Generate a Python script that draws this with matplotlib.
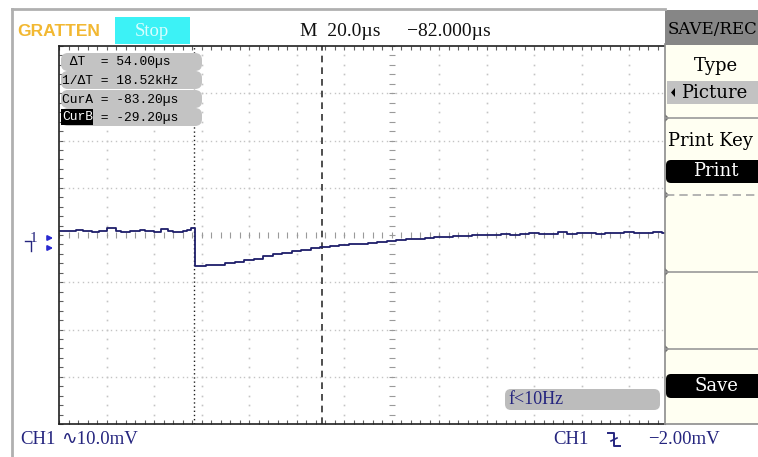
import matplotlib
matplotlib.use("Agg")
import matplotlib.pyplot as plt
from matplotlib.patches import Rectangle, FancyBboxPatch, Polygon
import numpy as np

# ---------------- data ----------------
time_div_us = 20.0      # µs / div
volt_div_mv = 10.0      # mV / div
cursor_a_us = -83.2
cursor_b_us = -29.2

trace_time_us = [-140, -136, -133, -130, -126, -123, -120, -116, -114, -110,
                 -106, -104, -100, -97, -94, -92, -88, -86, -84.5,
                 -82.8, -78, -74, -70, -66, -62, -58, -54, -50, -46, -42, -38,
                 -34, -30, -26, -22, -18, -14, -10, -6, -2, 2, 6, 10, 14, 18,
                 22, 26, 30, 34, 38, 42, 46, 50, 54, 58, 62, 66, 70, 74, 78,
                 82, 86, 90, 94, 98, 102, 106, 110, 114, 115.2]
trace_mv = [0.8, 0.8, 1.0, 0.8, 0.6, 0.8, 1.4, 0.8, 0.6, 0.8,
            1.0, 0.8, 0.6, 1.2, 0.8, 0.6, 0.8, 1.0, 1.4,
            -6.6, -6.4, -6.4, -6.0, -5.7, -5.3, -5.0, -4.5, -4.1, -3.8, -3.4, -3.2,
            -2.8, -2.6, -2.4, -2.2, -1.9, -1.9, -1.6, -1.5, -1.2, -1.1, -0.9, -0.8, -0.6, -0.5,
            -0.4, -0.2, -0.3, 0.0, -0.1, 0.0, 0.2, 0.1, 0.2, 0.4, 0.2, 0.3, 0.6, 0.3, 0.4,
            0.4, 0.2, 0.5, 0.4, 0.6, 0.4, 0.5, 0.7, 0.4, 0.4]

info_lines = [" \u0394T  = 54.00\u00b5s", "1/\u0394T = 18.52kHz",
              "CurA = -83.20\u00b5s", "CurB = -29.20\u00b5s"]
header_time = "M  20.0\u00b5s"
header_pos = "\u221282.000\u00b5s"
ch_scale = "\u223f10.0mV"
trig_level = "\u22122.00mV"
freq_text = "f<10Hz"

W, H = 758, 457
fig = plt.figure(figsize=(W / 100, H / 100), dpi=100)
fig.patch.set_facecolor("white")

# ---------------- main scope axes ----------------
L, T, R, B = 59, 46, 665, 424
ax = fig.add_axes([L / W, (H - B) / H, (R - L) / W, (B - T) / H])
ax.set_facecolor("white")
xmin = -7 * time_div_us
xmax = xmin + (R - L) / 47.5 * time_div_us
ax.set_xlim(xmin, xmax)
ax.set_ylim(-4 * volt_div_mv, 4 * volt_div_mv)
ax.set_xticks([]); ax.set_yticks([])

grid_c = "#c4c4c4"
minor_t = np.arange(xmin, xmax + 0.01, time_div_us / 5)
fine_t = np.arange(xmin, xmax + 0.01, time_div_us / 10)
minor_v = np.arange(-40, 40.01, volt_div_mv / 5)
for t in np.arange(-120, xmax, time_div_us):
    if abs(t) < 1e-6:
        continue
    ax.plot(np.full_like(minor_v, t), minor_v, ls="none", marker="s", ms=1.2,
            color=grid_c, mew=0)
for v in np.arange(-30, 31, volt_div_mv):
    if abs(v) < 1e-6:
        continue
    ax.plot(fine_t, np.full_like(fine_t, v), ls="none", marker="s", ms=1.0,
            color=grid_c, mew=0)
# centre axes with small ticks
ax.plot(minor_t, np.zeros_like(minor_t), ls="none", marker="|", ms=4,
        color="#9a9a9a", mew=0.8)
ax.plot(np.zeros_like(minor_v), minor_v, ls="none", marker="_", ms=4,
        color="#9a9a9a", mew=0.8)

# cursors
ax.axvline(cursor_a_us, color="#202020", lw=1.0, ls=(0, (1, 2)))
ax.axvline(cursor_b_us, color="#303030", lw=1.2, ls=(0, (4, 3)))

# trace
ax.plot(trace_time_us, trace_mv, drawstyle="steps-post", color="#1e1e6a", lw=1.3)

# spines and edge ticks
for s in ["top", "bottom", "left"]:
    ax.spines[s].set_color("#202020")
    ax.spines[s].set_linewidth(1.2)
ax.spines["right"].set_color("#909090")
ax.set_xticks(minor_t, minor=True)
ax.set_yticks(minor_v, minor=True)
ax.tick_params(which="minor", direction="in", length=3, width=0.8,
               color="#606060", top=True, bottom=True, left=True, right=False,
               labelbottom=False, labelleft=False)

# ---------------- overlay (decorations in pixel coordinates) ----------------
ov = fig.add_axes([0, 0, 1, 1])
ov.set_xlim(0, W); ov.set_ylim(H, 0)
ov.axis("off")
ov.patch.set_alpha(0)
ov.set_zorder(5)

# outer frame
ov.plot([12, 12], [9, H], color="#b0b0b0", lw=2)
ov.plot([12, 665], [9, 9], color="#b0b0b0", lw=2)

serif = ["Liberation Serif", "DejaVu Sans"]
pserif = ["DejaVu Serif"]
navy = "#25257f"

# logo
ov.text(17, 31, "GRATTEN", fontsize=12.5, fontweight="bold", color="#f2b832",
        family="Liberation Sans", va="center", ha="left")
# Stop box
ov.add_patch(Rectangle((115, 17), 75, 27, facecolor="#3cf2f6", edgecolor="none"))
ov.text(152, 31, "Stop", fontsize=13.5, color="#d8feff", family=serif,
        ha="center", va="center")
# header time base
ov.text(300, 31, header_time, fontsize=14, color="#101010", family=serif,
        ha="left", va="center")
ov.text(407, 31, header_pos, fontsize=14, color="#101010", family=serif,
        ha="left", va="center")

# info boxes
row_y = [62, 80, 99, 117]
for y, txt in zip(row_y, info_lines):
    ov.add_patch(FancyBboxPatch((61, y - 9), 141, 18,
                                boxstyle="round,pad=0,rounding_size=7",
                                facecolor="#c3c3c3", edgecolor="none"))
ov.add_patch(Rectangle((61, 109), 32, 16, facecolor="black", edgecolor="none"))
for i, (y, txt) in enumerate(zip(row_y, info_lines)):
    if i == 3:
        ov.text(62, y + 0.5, "CurB", fontsize=9.4, family="Liberation Mono",
                color="white", va="center", ha="left")
        ov.text(62 + 4 * 7.8, y + 0.5, txt[4:], fontsize=9.4,
                family="Liberation Mono", color="black", va="center", ha="left")
    else:
        ov.text(62, y + 0.5, txt, fontsize=9.4, family=["Liberation Mono", "DejaVu Sans Mono"],
                color="black", va="center", ha="left")

# ground / channel marker
ov.text(33, 238, "1", fontsize=11, color=navy, family=serif, ha="center", va="center")
ov.plot([25, 31, 31], [241, 241, 251], color=navy, lw=1.0)
for ya in (238, 248):
    ov.annotate("", xy=(56, ya), xytext=(46, ya),
                arrowprops=dict(arrowstyle="-|>", color="#2a2ad0", lw=1.4,
                                mutation_scale=7))

# right menu panel
ov.add_patch(Rectangle((665, 10), 95, 414, facecolor="#fffff2",
                       edgecolor="none"))
ov.plot([665, 665], [44, 424], color="#8c8c8c", lw=1.2)
ov.plot([665, 758], [424, 424], color="#8c8c8c", lw=1.2)
ov.add_patch(Rectangle((665, 10), 95, 35, facecolor="#868686", edgecolor="none"))
ov.text(668, 30, "SAVE/REC", fontsize=12, color="black", family=pserif,
        ha="left", va="center")
ov.text(716, 66, "Type", fontsize=13, color="black", family=pserif,
        ha="center", va="center")
ov.add_patch(Rectangle((667, 81), 93, 23, facecolor="#c2c2c2", edgecolor="none"))
ov.add_patch(Polygon([[675, 88], [675, 97], [671, 92.5]], closed=True,
                     facecolor="black", edgecolor="none"))
ov.text(681, 93, "Picture", fontsize=13, color="black", family=pserif,
        ha="left", va="center")
for y, style, col in [(118, "-", "#9a9a9a"), (195, (0, (5, 3)), "#a8a8a8"),
                      (272, "-", "#9a9a9a"), (349, "-", "#9a9a9a")]:
    ov.plot([666, 758], [y, y], color=col, lw=1.2, ls=style)
    ov.add_patch(Polygon([[665, y - 4], [665, y + 4], [669, y]], closed=True,
                         facecolor="#707070", edgecolor="none"))
ov.text(668, 141, "Print Key", fontsize=13, color="black", family=pserif,
        ha="left", va="center")
ov.add_patch(FancyBboxPatch((666, 160), 100, 23,
                            boxstyle="round,pad=0,rounding_size=5",
                            facecolor="black", edgecolor="none"))
ov.text(716, 171, "Print", fontsize=13, color="white", family=pserif,
        ha="center", va="center")
ov.add_patch(FancyBboxPatch((666, 374), 100, 24,
                            boxstyle="round,pad=0,rounding_size=5",
                            facecolor="black", edgecolor="none"))
ov.text(716, 386, "Save", fontsize=13, color="white", family=pserif,
        ha="center", va="center")

# f<10Hz box
ov.add_patch(FancyBboxPatch((505, 389), 155, 21,
                            boxstyle="round,pad=0,rounding_size=6",
                            facecolor="#bcbcbc", edgecolor="none"))
ov.text(508, 400, freq_text, fontsize=13, color=navy, family=serif,
        ha="left", va="center")

# bottom status line
ov.text(20, 440, "CH1", fontsize=13.5, color=navy, family=serif,
        ha="left", va="center")
ov.text(61, 440, ch_scale, fontsize=13.5, color=navy, family=serif,
        ha="left", va="center")
ov.text(553, 440, "CH1", fontsize=13.5, color=navy, family=serif,
        ha="left", va="center")
ov.plot([608, 614, 614, 620], [433, 433, 446, 446], color=navy, lw=1.4)
ov.plot([611, 617], [441, 438], color=navy, lw=1.2)
ov.text(648, 440, trig_level, fontsize=13.5, color=navy, family=serif,
        ha="left", va="center")

fig.savefig("out.png", dpi=100, facecolor="white")
